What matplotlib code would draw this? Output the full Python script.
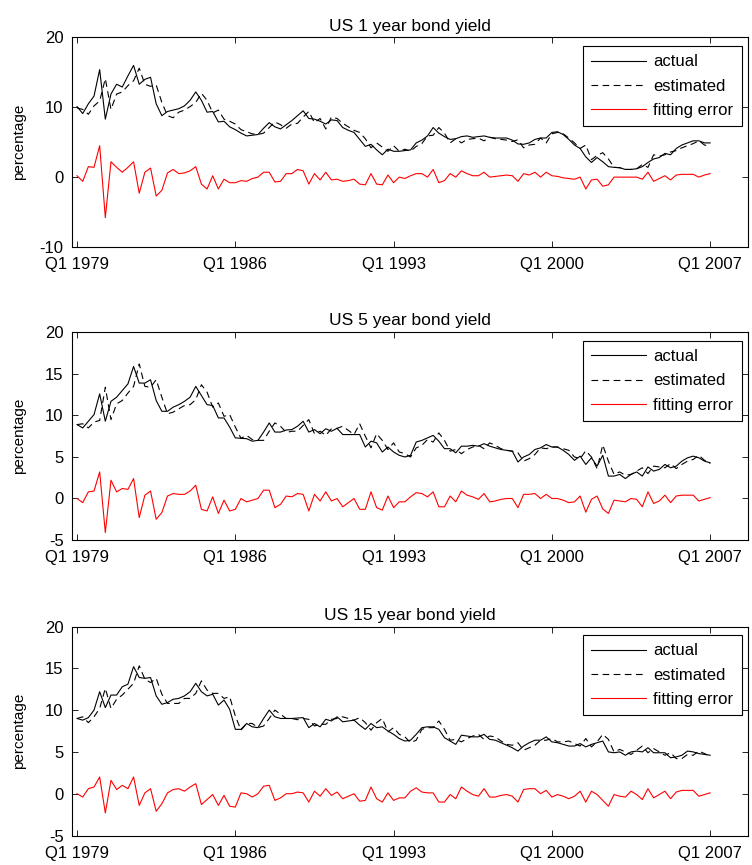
import matplotlib
matplotlib.use("Agg")
import matplotlib.pyplot as plt
import numpy as np

plt.rcParams['font.family'] = ['Liberation Sans', 'DejaVu Sans']
plt.rcParams['axes.unicode_minus'] = False

# quarters 1979Q1 .. 2007Q1 (113 points)
quarters = np.arange(113)
tick_pos = [0, 28, 56, 84, 112]
tick_lab = ['Q1 1979', 'Q1 1986', 'Q1 1993', 'Q1 2000', 'Q1 2007']

# US 1 year
act1 = [10.1, 9.1, 10.5, 11.6, 15.4, 8.3, 11.9, 13.3, 12.9, 14.5,
        16.0, 13.3, 14.0, 14.3, 10.5, 8.8, 9.4, 9.6, 9.8, 10.2,
        11.0, 12.2, 11.0, 9.3, 9.4, 7.9, 8.0, 7.2, 6.8, 6.3,
        5.9, 6.0, 6.1, 7.0, 7.8, 7.2, 6.9, 7.5, 8.1, 8.8,
        9.5, 8.4, 8.3, 8.0, 7.6, 8.2, 8.1, 7.1, 6.7, 6.4,
        5.4, 4.4, 4.7, 3.9, 3.2, 4.0, 3.7, 3.7, 3.8, 3.9,
        4.9, 5.3, 5.9, 7.1, 6.3, 5.8, 5.4, 5.5, 5.8, 5.9,
        5.7, 5.8, 5.9, 5.7, 5.6, 5.6, 5.6, 5.3, 4.75, 4.7,
        4.9, 5.4, 5.6, 5.6, 6.4, 6.5, 6.1, 5.4, 4.6, 4.1,
        2.9, 2.1, 2.8, 2.2, 1.5, 1.4, 1.35, 1.1, 1.1, 1.2,
        1.5, 2.1, 2.6, 2.8, 3.4, 3.2, 4.1, 4.6, 4.9, 5.2,
        5.2, 4.9, 4.9]
est1 = [9.9, 9.7, 9.0, 10.2, 10.9, 14.1, 9.7, 11.9, 12.2, 13.1,
        13.8, 15.6, 13.3, 13.0, 13.2, 10.7, 8.8, 8.5, 9.3, 9.6,
        10.1, 10.7, 12.0, 11.0, 9.2, 9.6, 8.3, 8.0, 7.6, 6.8,
        6.5, 6.2, 6.1, 6.3, 7.1, 7.9, 7.5, 7.0, 7.6, 7.7,
        8.6, 9.4, 7.8, 8.4, 6.9, 8.6, 8.4, 7.7, 7.2, 6.7,
        6.4, 5.5, 4.2, 4.9, 4.3, 3.7, 4.5, 3.7, 4.0, 3.7,
        4.4, 4.8, 5.9, 6.0, 7.1, 6.3, 4.9, 5.5, 4.9, 5.4,
        5.5, 5.6, 5.2, 5.7, 5.5, 5.4, 5.3, 5.1, 5.35, 4.2,
        4.6, 4.7, 5.6, 4.9, 6.2, 6.4, 6.2, 5.6, 4.9, 4.1,
        4.6, 2.5, 3.1, 3.5, 2.6, 1.4, 1.35, 1.1, 1.1, 1.2,
        1.8, 1.4, 3.2, 3.0, 3.2, 3.6, 3.8, 4.2, 4.5, 4.8,
        5.2, 4.6, 4.4]
err1 = [0.2, -0.6, 1.5, 1.4, 4.5, -5.8, 2.2, 1.4, 0.7, 1.4,
        2.2, -2.3, 0.7, 1.3, -2.7, -1.9, 0.6, 1.1, 0.5, 0.6,
        0.9, 1.5, -1.0, -1.7, 0.2, -1.7, -0.3, -0.8, -0.8, -0.5,
        -0.6, -0.2, 0.0, 0.7, 0.7, -0.7, -0.6, 0.5, 0.5, 1.1,
        0.9, -1.0, 0.5, -0.4, 0.7, -0.4, -0.3, -0.6, -0.5, -0.3,
        -1.0, -1.1, 0.5, -1.0, -1.1, 0.3, -0.8, 0.0, -0.2, 0.2,
        0.5, 0.5, 0.0, 1.1, -0.8, -0.5, 0.5, 0.0, 0.9, 0.5,
        0.2, 0.2, 0.7, 0.0, 0.1, 0.2, 0.3, 0.2, -0.6, 0.5,
        0.3, 0.7, 0.0, 0.7, 0.2, 0.1, -0.1, -0.2, -0.3, 0.0,
        -1.7, -0.4, -0.3, -1.3, -1.1, 0.0, 0.0, 0.0, 0.0, 0.0,
        -0.3, 0.7, -0.6, -0.2, 0.2, -0.4, 0.3, 0.4, 0.4, 0.4,
        0.0, 0.3, 0.5]

# US 5 year
act5 = [8.9, 8.5, 9.3, 10.1, 12.6, 9.3, 11.7, 12.2, 13.0, 13.8,
        15.9, 13.9, 13.9, 14.3, 11.8, 10.5, 10.5, 11.0, 11.3, 11.7,
        12.2, 13.5, 12.4, 11.3, 11.2, 9.7, 9.7, 8.6, 7.3, 7.25,
        7.2, 6.9, 7.0, 8.0, 9.1, 8.0, 8.0, 8.25, 8.3, 8.7,
        9.3, 8.0, 8.3, 7.8, 8.4, 8.1, 8.45, 7.7, 7.7, 7.7,
        7.7, 6.2, 6.9, 6.7, 5.6, 6.2, 5.6, 5.2, 5.0, 5.2,
        6.8, 7.0, 7.3, 7.6, 6.9, 6.0, 6.0, 5.5, 6.3, 6.3,
        6.4, 6.3, 6.6, 6.3, 6.1, 5.9, 5.8, 5.7, 4.4, 5.0,
        5.3, 5.9, 6.1, 6.5, 6.2, 6.2, 5.8, 5.3, 4.6, 5.1,
        4.1, 4.9, 3.9, 5.2, 2.7, 2.7, 2.9, 2.4, 2.9, 3.2,
        2.7, 3.8, 3.3, 3.5, 4.1, 3.7, 3.9, 4.5, 4.9, 5.1,
        4.9, 4.5, 4.3]
est5 = [8.9, 9.0, 8.5, 9.2, 9.4, 13.4, 9.5, 11.4, 11.8, 12.7,
        13.5, 16.2, 13.5, 13.4, 14.3, 12.2, 10.2, 10.4, 10.8, 11.2,
        11.3, 11.9, 13.7, 12.8, 11.0, 11.5, 9.9, 10.1, 8.6, 7.25,
        7.6, 7.1, 7.0, 7.0, 8.1, 9.1, 8.7, 7.95, 8.1, 8.1,
        8.8, 9.5, 7.8, 8.1, 7.6, 8.4, 8.45, 8.7, 8.2, 7.7,
        9.0, 7.5, 6.1, 7.8, 7.0, 5.9, 6.7, 5.6, 5.4, 5.0,
        6.1, 6.4, 7.1, 6.8, 7.9, 7.0, 5.7, 5.9, 5.4, 5.9,
        6.2, 6.4, 6.0, 6.7, 6.4, 6.0, 5.8, 5.7, 5.5, 4.5,
        4.8, 5.3, 6.1, 6.0, 6.2, 6.2, 6.0, 5.8, 5.0, 4.8,
        5.75, 5.0, 3.6, 6.45, 4.5, 2.9, 3.2, 2.8, 2.9, 3.3,
        3.7, 3.0, 3.9, 3.8, 3.7, 4.2, 3.6, 4.1, 4.5, 4.7,
        5.2, 4.6, 4.2]
err5 = [0.0, -0.5, 0.8, 0.9, 3.2, -4.1, 2.2, 0.8, 1.2, 1.1,
        2.4, -2.3, 0.4, 0.9, -2.5, -1.7, 0.3, 0.6, 0.5, 0.5,
        0.9, 1.6, -1.3, -1.5, 0.2, -1.8, -0.2, -1.5, -1.3, 0.0,
        -0.4, -0.2, 0.0, 1.0, 1.0, -1.1, -0.7, 0.3, 0.2, 0.6,
        0.5, -1.5, 0.5, -0.3, 0.8, -0.3, 0.0, -1.0, -0.5, 0.0,
        -1.3, -1.3, 0.8, -1.1, -1.4, 0.3, -1.1, -0.4, -0.4, 0.2,
        0.7, 0.6, 0.2, 0.8, -1.0, -1.0, 0.3, -0.4, 0.9, 0.4,
        0.2, -0.1, 0.6, -0.4, -0.3, -0.1, 0.0, 0.0, -1.1, 0.5,
        0.5, 0.6, 0.0, 0.5, 0.0, 0.0, -0.2, -0.5, -0.4, 0.3,
        -1.65, -0.1, 0.3, -1.25, -1.8, -0.2, -0.3, -0.4, 0.0, -0.1,
        -1.0, 0.8, -0.6, -0.3, 0.4, -0.5, 0.3, 0.4, 0.4, 0.4,
        -0.3, -0.1, 0.1]

# US 15 year
act15 = [9.0, 8.8, 9.1, 10.0, 12.2, 10.3, 11.8, 11.8, 12.8, 13.1,
         15.2, 13.9, 13.8, 13.9, 11.7, 10.7, 10.9, 11.3, 11.4, 11.7,
         12.2, 13.2, 12.2, 11.7, 11.9, 10.6, 11.2, 10.1, 7.7, 7.7,
         8.4, 8.0, 7.9, 9.0, 10.0, 9.2, 9.0, 9.0, 9.0, 9.05,
         9.1, 7.9, 8.4, 8.0, 8.9, 8.7, 9.2, 8.6, 8.7, 8.8,
         8.2, 7.7, 8.4, 7.9, 8.0, 7.5, 7.1, 6.6, 6.3, 6.4,
         7.1, 7.9, 8.0, 8.0, 7.7, 6.7, 6.3, 5.9, 7.0, 6.9,
         6.8, 6.8, 7.1, 6.5, 6.4, 6.1, 5.8, 5.5, 5.1, 5.7,
         6.1, 6.4, 6.4, 6.8, 6.2, 6.1, 5.9, 5.7, 5.7, 6.0,
         5.6, 5.9, 6.1, 6.3, 5.0, 4.9, 5.0, 4.6, 5.0, 5.1,
         5.0, 5.5, 4.9, 4.9, 4.9, 4.3, 4.4, 4.6, 5.1, 5.0,
         4.8, 4.7, 4.6]
est15 = [9.0, 9.2, 8.5, 9.2, 10.2, 12.6, 10.2, 11.3, 11.8, 12.5,
         13.2, 15.3, 13.7, 13.3, 13.8, 11.9, 10.8, 10.8, 10.8, 11.4,
         11.4, 12.0, 13.5, 12.4, 12.0, 12.0, 11.4, 11.6, 9.3, 7.6,
         8.4, 8.4, 7.9, 8.1, 9.0, 10.0, 9.5, 9.0, 9.0, 8.85,
         9.0, 8.9, 8.1, 8.3, 8.3, 8.9, 9.0, 9.2, 9.0, 8.8,
         9.1, 8.5, 7.6, 8.5, 9.0, 7.4, 7.9, 7.1, 6.8, 6.1,
         6.4, 7.7, 7.9, 7.9, 8.7, 7.7, 6.4, 6.5, 6.2, 6.6,
         6.9, 7.1, 6.5, 6.9, 6.8, 6.3, 5.9, 5.8, 6.1, 5.2,
         5.5, 5.8, 6.4, 6.4, 6.6, 6.2, 6.2, 6.3, 6.0, 5.7,
         6.6, 5.6, 6.2, 7.1, 6.5, 5.0, 5.3, 5.0, 4.7, 5.2,
         5.7, 4.9, 5.4, 5.0, 4.6, 4.9, 4.2, 4.2, 4.7, 4.6,
         5.1, 4.8, 4.5]
err15 = [0.0, -0.4, 0.6, 0.8, 2.0, -2.3, 1.6, 0.5, 1.0, 0.6,
         2.0, -1.4, 0.1, 0.6, -2.1, -1.2, 0.1, 0.5, 0.6, 0.3,
         0.8, 1.2, -1.3, -0.7, -0.1, -1.4, -0.2, -1.5, -1.6, 0.1,
         0.0, -0.4, 0.0, 0.9, 1.0, -0.8, -0.5, 0.0, 0.0, 0.2,
         0.1, -1.0, 0.3, -0.3, 0.6, -0.2, 0.2, -0.6, -0.3, 0.0,
         -0.9, -0.8, 0.8, -0.6, -1.0, 0.1, -0.8, -0.5, -0.5, 0.3,
         0.7, 0.2, 0.1, 0.1, -1.0, -1.0, -0.1, -0.6, 0.8, 0.3,
         -0.1, -0.3, 0.6, -0.4, -0.4, -0.2, -0.1, -0.3, -1.0, 0.5,
         0.6, 0.6, 0.0, 0.4, -0.4, -0.1, -0.3, -0.6, -0.3, 0.3,
         -1.0, 0.3, -0.1, -0.8, -1.5, -0.1, -0.3, -0.4, 0.3, -0.1,
         -0.7, 0.6, -0.5, -0.1, 0.3, -0.6, 0.2, 0.4, 0.4, 0.4,
         -0.3, -0.1, 0.1]

titles = ['US 1 year bond yield', 'US 5 year bond yield', 'US 15 year bond yield']
series = [(act1, est1, err1), (act5, est5, err5), (act15, est15, err15)]
ylims = [(-10, 20), (-5, 20), (-5, 20)]
yticks = [[-10, 0, 10, 20], [-5, 0, 5, 10, 15, 20], [-5, 0, 5, 10, 15, 20]]
positions = [[0.0957, 0.7145, 0.899, 0.2422],
             [0.0957, 0.3757, 0.899, 0.2400],
             [0.0957, 0.0341, 0.899, 0.2416]]

fig = plt.figure(figsize=(7.52, 8.65), dpi=100)

for k in range(3):
    ax = fig.add_axes(positions[k])
    a, e, r = series[k]
    ax.plot(quarters, a, '-', color='black', lw=0.8, label='actual')
    ax.plot(quarters, e, '--', color='black', lw=0.8, dashes=(6, 4), label='estimated')
    ax.plot(quarters, r, '-', color='red', lw=0.8, label='fitting error')
    ax.set_xlim(-0.9, 118.7)
    ax.set_ylim(*ylims[k])
    ax.set_yticks(yticks[k])
    ax.set_xticks(tick_pos)
    ax.set_xticklabels(tick_lab)
    ax.tick_params(direction='in', top=True, right=True, length=4, width=0.6,
                   labelsize=12)
    ax.tick_params(axis='x', pad=7.5)
    ax.tick_params(axis='y', pad=6)
    for s in ax.spines.values():
        s.set_linewidth(0.8)
    ax.set_title(titles[k], fontsize=12.5, pad=5)
    ax.set_ylabel('percentage', fontsize=11)
    ax.yaxis.set_label_coords(-0.068, 0.5)
    leg = ax.legend(loc='upper right', bbox_to_anchor=(0.991, 0.959),
                    borderaxespad=0, fontsize=12, handlelength=3.3,
                    handletextpad=0.45, labelspacing=0.55, borderpad=0.5,
                    fancybox=False, framealpha=1, edgecolor='black')
    leg.get_frame().set_linewidth(0.8)

fig.savefig('out.png', dpi=100)
